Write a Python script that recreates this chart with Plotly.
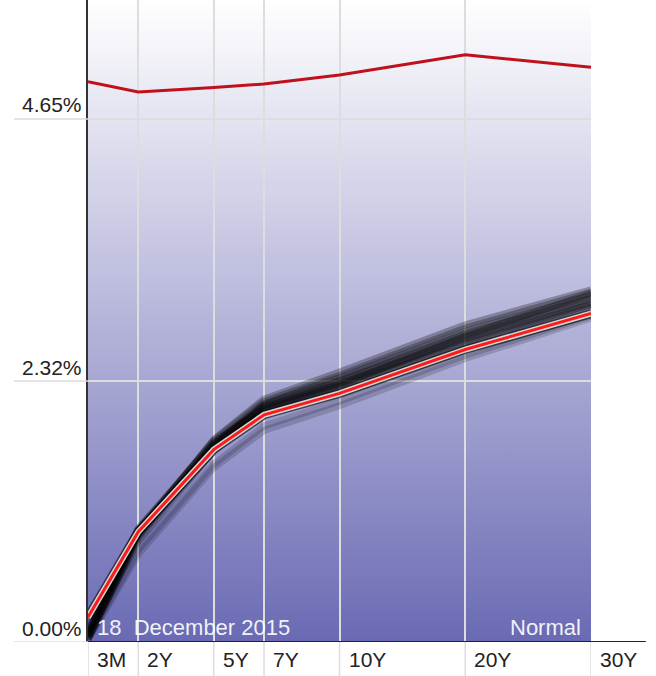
import base64
import plotly.graph_objects as go

tenors = ["3M", "2Y", "5Y", "7Y", "10Y", "20Y", "30Y"]
tenor_pos = [0, 1, 2.5, 3.5, 5, 7.5, 10]
current = [0.22, 0.98, 1.71, 2.02, 2.21, 2.60, 2.92]
high = [4.98, 4.89, 4.93, 4.96, 5.04, 5.22, 5.11]
hist_upper = [
    [0.02, 0.95, 1.74, 2.09, 2.29, 2.68, 3.00],
    [0.03, 0.93, 1.73, 2.10, 2.32, 2.72, 3.05],
    [0.05, 0.96, 1.76, 2.12, 2.35, 2.76, 3.08],
    [0.08, 1.00, 1.78, 2.08, 2.30, 2.70, 3.02],
    [0.12, 0.99, 1.72, 2.05, 2.26, 2.66, 3.00],
    [0.04, 0.90, 1.70, 2.06, 2.28, 2.72, 3.10],
    [0.06, 0.97, 1.75, 2.11, 2.33, 2.74, 3.06],
    [0.10, 1.01, 1.77, 2.07, 2.27, 2.65, 2.98],
    [0.05, 0.97, 1.80, 2.16, 2.40, 2.82, 3.13],
    [0.08, 0.98, 1.79, 2.14, 2.37, 2.79, 3.11],
]
hist_lower = [
    [0.02, 0.78, 1.55, 1.88, 2.10, 2.52, 2.88],
    [0.03, 0.82, 1.58, 1.92, 2.14, 2.55, 2.90],
]
ytick_vals = [0.0, 2.32, 4.65]
ytick_text = ["0.00%", "2.32%", "4.65%"]
date_text = "18\u00a0\u00a0December 2015"
shape_text = "Normal"

YMAX = 5.707
FONT = "Liberation Sans, Arial, sans-serif"

fig = go.Figure()

for h in hist_lower:
    fig.add_trace(go.Scatter(x=tenor_pos, y=h, mode="lines",
                             line=dict(color="rgba(10,10,30,0.18)", width=7),
                             hoverinfo="skip", showlegend=False))
for h in hist_upper:
    fig.add_trace(go.Scatter(x=tenor_pos, y=h, mode="lines",
                             line=dict(color="rgba(0,0,0,0.28)", width=7),
                             hoverinfo="skip", showlegend=False))
fig.add_trace(go.Scatter(x=tenor_pos, y=high, mode="lines",
                         line=dict(color="#c0101c", width=3), showlegend=False))
fig.add_trace(go.Scatter(x=tenor_pos, y=current, mode="lines",
                         line=dict(color="rgba(0,0,0,0.6)", width=9),
                         hoverinfo="skip", showlegend=False))
fig.add_trace(go.Scatter(x=tenor_pos, y=current, mode="lines",
                         line=dict(color="rgba(215,215,215,1)", width=6),
                         hoverinfo="skip", showlegend=False))
fig.add_trace(go.Scatter(x=tenor_pos, y=current, mode="lines",
                         line=dict(color="#ff1a1a", width=3), showlegend=False))

svg = ("<svg xmlns='http://www.w3.org/2000/svg' width='10' height='100' "
       "viewBox='0 0 10 100' preserveAspectRatio='none'><defs>"
       "<linearGradient id='g' x1='0' y1='0' x2='0' y2='1'>"
       "<stop offset='0' stop-color='#ffffff'/>"
       "<stop offset='1' stop-color='#6a6ab4'/></linearGradient></defs>"
       "<rect width='10' height='100' fill='url(#g)'/></svg>")
uri = "data:image/svg+xml;base64," + base64.b64encode(svg.encode()).decode()
fig.add_layout_image(dict(source=uri, xref="x", yref="y", x=0, y=YMAX,
                          sizex=10, sizey=YMAX, sizing="stretch",
                          layer="below", xanchor="left", yanchor="top"))

shapes = []
for v in ytick_vals:
    shapes.append(dict(type="line", xref="paper", yref="y", x0=-0.147, x1=0,
                       y0=v, y1=v, line=dict(color="#dddddd", width=1.5)))
for p in tenor_pos:
    shapes.append(dict(type="line", xref="x", yref="paper", x0=p, x1=p,
                       y0=-0.053, y1=0, line=dict(color="#dddddd", width=1.5)))
shapes.append(dict(type="line", xref="paper", yref="y", x0=0, x1=1.109,
                   y0=0, y1=0, line=dict(color="#222222", width=2)))
fig.update_layout(shapes=shapes)

ann = []
for v, t in zip(ytick_vals, ytick_text):
    ann.append(dict(xref="paper", yref="y", x=0, y=v, text=t, showarrow=False,
                    xanchor="right", yanchor="middle", xshift=-4, yshift=14,
                    font=dict(family=FONT, size=21, color="#222222")))
for p, t in zip(tenor_pos, tenors):
    ann.append(dict(xref="x", yref="paper", x=p, y=0, text=t, showarrow=False,
                    xanchor="left", yanchor="middle", xshift=7, yshift=-17,
                    font=dict(family=FONT, size=21, color="#222222")))
ann.append(dict(xref="x", yref="y", x=0, y=0, text=date_text, showarrow=False,
                xanchor="left", yanchor="middle", xshift=7, yshift=15,
                font=dict(family=FONT, size=22, color="rgba(255,255,255,0.92)")))
ann.append(dict(xref="x", yref="y", x=10, y=0, text=shape_text, showarrow=False,
                xanchor="right", yanchor="middle", xshift=-8, yshift=15,
                font=dict(family=FONT, size=22, color="rgba(255,255,255,0.92)")))
fig.update_layout(annotations=ann)

fig.update_layout(
    width=656, height=676,
    margin=dict(l=88, r=65, t=0, b=34, pad=0),
    paper_bgcolor="white", plot_bgcolor="rgba(0,0,0,0)",
    xaxis=dict(range=[0, 10], tickvals=tenor_pos, showticklabels=False,
               showgrid=True, gridcolor="#dddddd", gridwidth=1.5,
               zeroline=False, showline=False, ticks=""),
    yaxis=dict(range=[0, YMAX], tickvals=ytick_vals, showticklabels=False,
               showgrid=True, gridcolor="#dddddd", gridwidth=1.5,
               zeroline=False, showline=True, linecolor="#333333", linewidth=2,
               ticks=""),
    font=dict(family=FONT),
)

fig.write_html("out.html")
